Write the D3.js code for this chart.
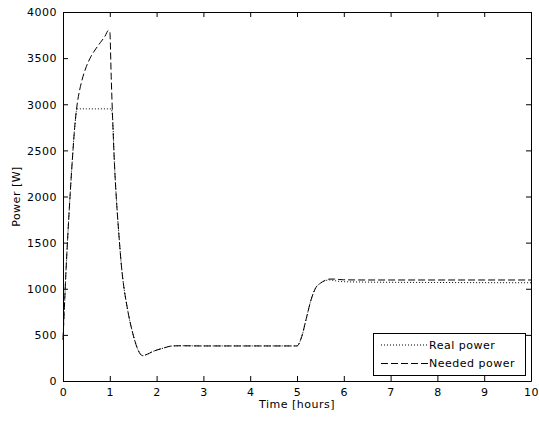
<!DOCTYPE html>
<html>
<head>
<meta charset="utf-8">
<script src="https://cdn.jsdelivr.net/npm/d3@7/dist/d3.min.js"></script>
<style>
  html, body { margin: 0; padding: 0; background: #fff; }
  svg { display: block; }
  text { font-family: "DejaVu Sans", sans-serif; fill: #000; letter-spacing: 0.5px; }
</style>
</head>
<body>
<svg id="chart" width="539" height="421"></svg>
<script>
// Time axis samples [hours]
const timeHours = [0, 0.03, 0.06, 0.1, 0.15, 0.2, 0.25, 0.3, 0.35, 0.4, 0.5, 0.6, 0.7, 0.8, 0.9, 0.97,
  1.0, 1.03, 1.06, 1.1, 1.15, 1.2, 1.25, 1.3, 1.35, 1.4, 1.5, 1.6, 1.7, 1.8, 1.9, 2.0, 2.1, 2.2, 2.3, 2.5,
  3.0, 3.5, 4.0, 4.5, 5.0, 5.1, 5.2, 5.3, 5.4, 5.5, 5.6, 5.7, 5.8, 5.9, 6.0, 6.5, 7.0, 8.0, 9.0, 10.0];

// Needed power [W]
const neededPower = [450, 800, 1150, 1550, 2000, 2400, 2750, 2990, 3140, 3250, 3410, 3520, 3600, 3670, 3740, 3800,
  3790, 3300, 2850, 2350, 1900, 1550, 1240, 1020, 860, 720, 500, 340, 275, 290, 315, 335, 350, 365, 378, 382,
  380, 380, 380, 380, 380, 480, 680, 880, 1010, 1060, 1090, 1105, 1105, 1100, 1097, 1095, 1095, 1095, 1095, 1095];

// Real (delivered) power [W]: limited to 2950 W at the start, slightly below need later
const realPower = [450, 800, 1150, 1550, 2000, 2400, 2750, 2950, 2950, 2950, 2950, 2950, 2950, 2950, 2950, 2950,
  2950, 2950, 2850, 2350, 1900, 1550, 1240, 1020, 860, 720, 500, 340, 275, 290, 315, 335, 350, 365, 378, 382,
  380, 380, 380, 380, 380, 480, 680, 880, 1010, 1060, 1088, 1095, 1088, 1080, 1076, 1072, 1070, 1068, 1066, 1065];

const xTicks = [0, 1, 2, 3, 4, 5, 6, 7, 8, 9, 10];
const yTicks = [0, 500, 1000, 1500, 2000, 2500, 3000, 3500, 4000];
const seriesNames = ["Real power", "Needed power"];

const svg = d3.select("#chart");
const plotLeft = 63, plotRight = 531, plotTop = 12, plotBottom = 381;

const x = d3.scaleLinear().domain([0, 10]).range([plotLeft, plotRight]);
const y = d3.scaleLinear().domain([0, 4000]).range([plotBottom, plotTop]);

const fontSize = 11;
const fmt = d3.format("d");

// Axes: ticks point inward, box-style on all four sides
const axB = svg.append("g").attr("transform", `translate(0,${plotBottom})`)
  .call(d3.axisBottom(x).tickValues(xTicks).tickFormat(fmt).tickSize(-5).tickPadding(8).tickSizeOuter(0));
const axT = svg.append("g").attr("transform", `translate(0,${plotTop})`)
  .call(d3.axisTop(x).tickValues(xTicks).tickSize(-5).tickFormat("").tickSizeOuter(0));
const axL = svg.append("g").attr("transform", `translate(${plotLeft},0)`)
  .call(d3.axisLeft(y).tickValues(yTicks).tickFormat(fmt).tickSize(-5).tickPadding(6).tickSizeOuter(0));
const axR = svg.append("g").attr("transform", `translate(${plotRight},0)`)
  .call(d3.axisRight(y).tickValues(yTicks).tickSize(-5).tickFormat("").tickSizeOuter(0));

[axB, axT, axL, axR].forEach(g => {
  g.selectAll("path.domain").attr("stroke", "#000").attr("stroke-width", 1);
  g.selectAll(".tick line").attr("stroke", "#000").attr("stroke-width", 1);
  g.selectAll(".tick text").attr("font-size", fontSize)
    .attr("font-family", "'DejaVu Sans', sans-serif").attr("fill", "#000");
});
axL.selectAll(".tick text").attr("dy", "0.35em");
axB.selectAll(".tick text").attr("dy", "0.6em");

// Data lines (smooth through the samples)
const line = d3.line().curve(d3.curveMonotoneX)
  .x((d, i) => x(timeHours[i])).y(d => y(d));

svg.append("path").datum(realPower)
  .attr("d", line).attr("fill", "none").attr("stroke", "#000")
  .attr("stroke-width", 1).attr("stroke-dasharray", "1,2");

svg.append("path").datum(neededPower)
  .attr("d", line).attr("fill", "none").attr("stroke", "#000")
  .attr("stroke-width", 1).attr("stroke-dasharray", "7,3");

// Axis titles
svg.append("text").attr("x", (plotLeft + plotRight) / 2).attr("y", 408)
  .attr("text-anchor", "middle").attr("font-size", fontSize).text("Time [hours]");
svg.append("text").attr("transform", `translate(20,${(plotTop + plotBottom) / 2}) rotate(-90)`)
  .attr("text-anchor", "middle").attr("font-size", fontSize).text("Power [W]");

// Legend
const lg = svg.append("g");
lg.append("rect").attr("x", 373.5).attr("y", 333.5).attr("width", 152).attr("height", 42)
  .attr("fill", "#fff").attr("stroke", "#000").attr("stroke-width", 1);
const dashes = ["1,2", "7,3"];
seriesNames.forEach((name, i) => {
  const yy = 345 + i * 18.5;
  lg.append("line").attr("x1", 381).attr("x2", 428).attr("y1", yy).attr("y2", yy)
    .attr("stroke", "#000").attr("stroke-width", 1).attr("stroke-dasharray", dashes[i]);
  lg.append("text").attr("x", 429).attr("y", yy).attr("dy", "0.35em")
    .attr("font-size", fontSize).text(name);
});
</script>
</body>
</html>
